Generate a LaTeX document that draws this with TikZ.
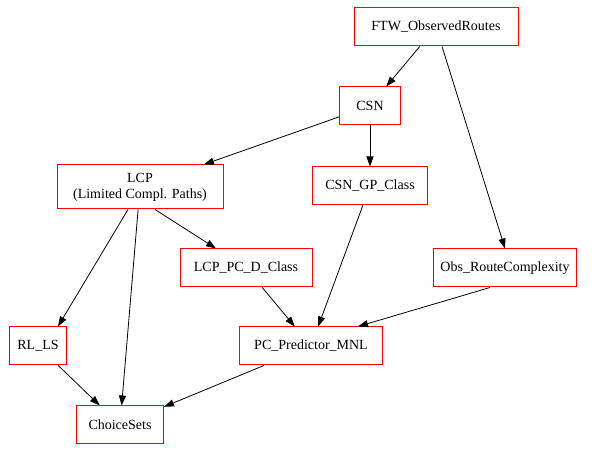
\documentclass[tikz,border=0pt]{standalone}
\usepackage{fontspec}
\setmainfont{Liberation Serif}
\usepackage{tikz}
\usetikzlibrary{arrows.meta}

\begin{document}
\begin{tikzpicture}[x=1pt, y=-1pt, inner sep=0pt, font=\fontsize{14}{16}\selectfont]
    \tikzstyle{task}=[rectangle, draw=red, fill=white, text=black, line width=1pt, minimum height=38pt, align=center]
    \tikzstyle{dep}=[-{Triangle[length=10pt,width=7pt]}, draw=black, line width=0.8pt]

    \useasboundingbox (0,0) rectangle (598,449);

    \node[task, minimum width=164pt] (FTW) at (436,27) {FTW\_ObservedRoutes};
    \node[task, minimum width=61pt] (CSN) at (370,106) {CSN};
    \node[task, minimum width=166pt, minimum height=44pt] (LCP) at (140,187) {LCP\\(Limited Compl. Paths)};
    \node[task, minimum width=115pt] (CSNGP) at (370,186) {CSN\_GP\_Class};
    \node[task, minimum width=132pt] (LCPPCD) at (246,268) {LCP\_PC\_D\_Class};
    \node[task, minimum width=143pt] (Obs) at (505,268) {Obs\_RouteComplexity};
    \node[task, minimum width=57pt] (RLLS) at (38,346) {RL\_LS};
    \node[task, minimum width=143pt] (PCMNL) at (311,346) {PC\_Predictor\_MNL};
    \node[task, minimum width=87pt] (Choice) at (120,425) {ChoiceSets};

    \draw[dep] (FTW) to (CSN);
    \draw[dep] (FTW) to (Obs.north);
    \draw[dep] (CSN) to (LCP);
    \draw[dep] (CSN) to (CSNGP);
    \draw[dep] ([xshift=+15pt] LCP.south) to ([xshift=-30pt] LCPPCD.north);
    \draw[dep] ([xshift=-12pt] LCP.south) to ([xshift=+20pt] RLLS.north);
    \draw[dep] (LCP) to (Choice);
    \draw[dep] (CSNGP) to (PCMNL);
    \draw[dep] (LCPPCD) to (PCMNL);
    \draw[dep] ([xshift=-15pt] Obs.south) to ([xshift=+47pt] PCMNL.north);
    \draw[dep] (RLLS) to (Choice);
    \draw[dep] (PCMNL) to (Choice);
\end{tikzpicture}
\end{document}
